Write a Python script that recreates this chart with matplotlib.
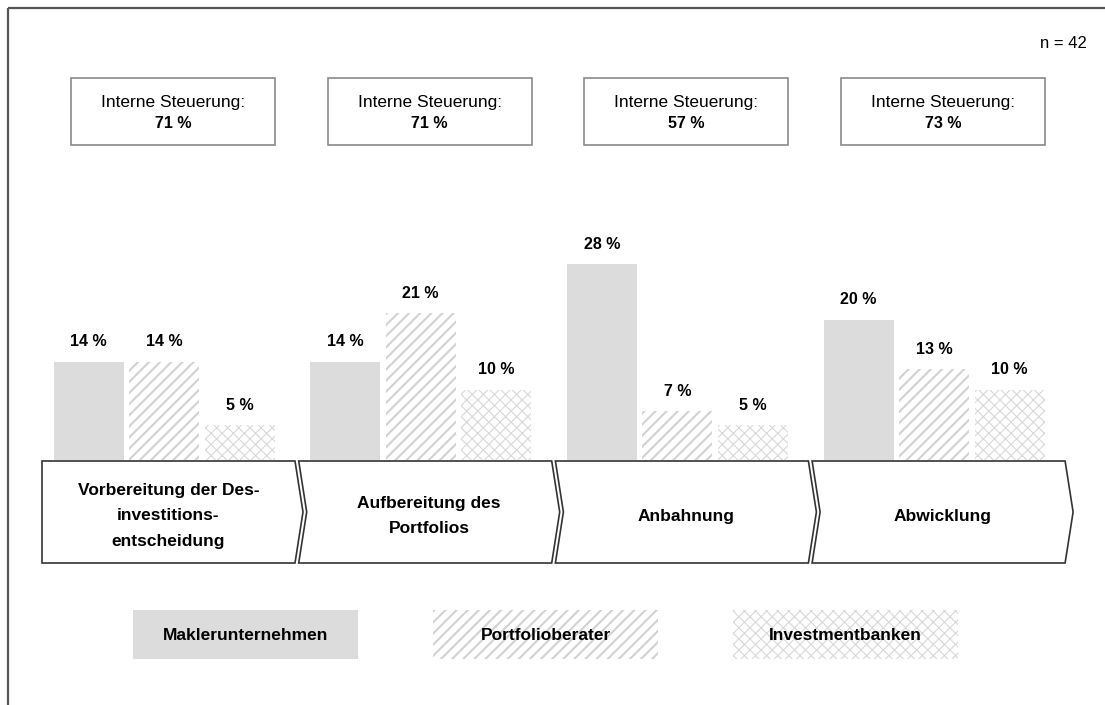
import matplotlib
matplotlib.use("Agg")
import matplotlib.pyplot as plt
from matplotlib.patches import Polygon, Rectangle

plt.rcParams['font.family'] = ['Liberation Sans', 'DejaVu Sans']

# ---------------- data ----------------
phases = ["Vorbereitung der Des-\ninvestitions-\nentscheidung",
          "Aufbereitung des\nPortfolios",
          "Anbahnung",
          "Abwicklung"]
series = ["Maklerunternehmen", "Portfolioberater", "Investmentbanken"]
makler = [14, 14, 28, 20]
portfolio = [14, 21, 7, 13]
invest = [5, 10, 5, 10]
intern = [71, 71, 57, 73]
n_total = 42

# ---------------- styling ----------------
W, H = 1105, 705
fig = plt.figure(figsize=(W / 100, H / 100), dpi=100)

styles = [
    dict(facecolor="#dcdcdc", edgecolor="#dcdcdc", hatch=None, linewidth=0),
    dict(facecolor="white", edgecolor="#d2d2d2", hatch="///", linewidth=0),
    dict(facecolor="white", edgecolor="#d8d8d8", hatch="xxx", linewidth=0),
]
hatch_lw = [1.0, 1.5, 0.8]

# geometry in pixels
group_step = 256.7
group0_center = 164.0
bar_w_px = 70
bar_step_px = 75.5
baseline_px = 460
px_per_pct = 7.0
ymax = 30

# bar axes: x in group units, y in percent
ax = fig.add_axes([0, (H - baseline_px) / H, 1, ymax * px_per_pct / H])
ax.set_xlim(-group0_center / group_step, (W - group0_center) / group_step)
ax.set_ylim(0, ymax)
ax.axis("off")

bw = bar_w_px / group_step
off = bar_step_px / group_step
all_vals = [makler, portfolio, invest]
for s, vals in enumerate(all_vals):
    plt.rcParams['hatch.linewidth'] = hatch_lw[s]
    xs = [i + (s - 1) * off for i in range(len(phases))]
    bars = ax.bar(xs, vals, width=bw, **styles[s])
    for b in bars:
        if hasattr(b, "set_hatch_linewidth"):
            b.set_hatch_linewidth(hatch_lw[s])
    for x, v in zip(xs, vals):
        ax.annotate(f"{v} %", (x, v), xytext=(0, 9), textcoords="offset points",
                    ha="center", va="bottom", fontsize=11.5, fontweight="bold")

# overlay axes in pixel coords
ov = fig.add_axes([0, 0, 1, 1], zorder=5)
ov.set_xlim(0, W)
ov.set_ylim(H, 0)
ov.axis("off")
ov.patch.set_alpha(0)

# frame (top + left)
ov.plot([8, W], [8, 8], color="#555555", lw=1.6, solid_capstyle="butt")
ov.plot([8, 8], [8, H], color="#555555", lw=1.6, solid_capstyle="butt")

# chevrons
ch_top, ch_bot = 461, 563
ch_mid = (ch_top + ch_bot) / 2
depth = 8
for i, label in enumerate(phases):
    L = 42 + i * group_step
    R = L + 253
    if i == 0:
        pts = [(L, ch_top), (R, ch_top), (R + depth, ch_mid), (R, ch_bot), (L, ch_bot)]
    else:
        pts = [(L, ch_top), (R, ch_top), (R + depth, ch_mid), (R, ch_bot),
               (L, ch_bot), (L + depth, ch_mid)]
    ov.add_patch(Polygon(pts, closed=True, facecolor="white", edgecolor="#333333", lw=1.2))
    cx = (L + R) / 2 + (depth / 2 if i > 0 else 0)
    ov.text(cx, ch_mid + 4, label, ha="center", va="center", fontsize=12.5,
            fontweight="bold", linespacing=1.85)

# top boxes
for i, v in enumerate(intern):
    cx = 168 + i * group_step + 5
    ov.add_patch(Rectangle((cx - 102, 78), 204, 67, facecolor="white",
                           edgecolor="#8a8a8a", lw=1.2))
    ov.text(cx, 103, "Interne Steuerung:", ha="center", va="center", fontsize=12.5)
    ov.text(cx, 124, f"{v} %", ha="center", va="center", fontsize=11.5, fontweight="bold")

# n label
ov.text(1063, 43, f"n = {n_total}", ha="center", va="center", fontsize=12)

# legend
for s, name in enumerate(series):
    lx = 133 + s * 300
    plt.rcParams['hatch.linewidth'] = hatch_lw[s]
    p = Rectangle((lx, 610), 225, 49, **styles[s])
    if hasattr(p, "set_hatch_linewidth"):
        p.set_hatch_linewidth(hatch_lw[s])
    ov.add_patch(p)
    ov.text(lx + 112.5, 635, name, ha="center", va="center", fontsize=12.5,
            fontweight="bold")

fig.savefig("out.png", dpi=100)
